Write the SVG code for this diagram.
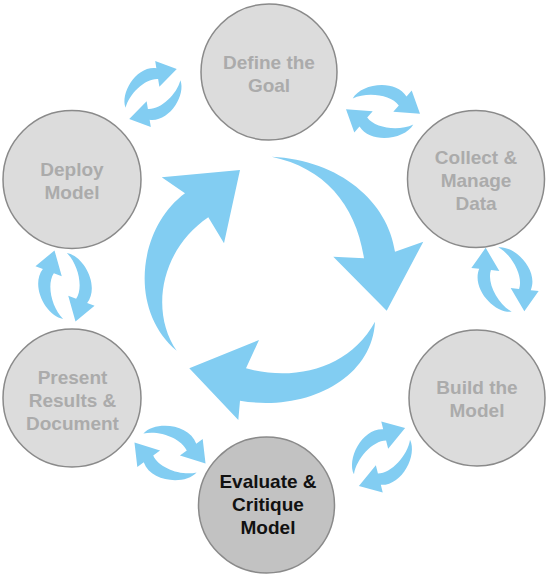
<svg xmlns="http://www.w3.org/2000/svg" xmlns:xlink="http://www.w3.org/1999/xlink" width="550" height="576" viewBox="0 0 550 576">
<style>
.node{fill:#dcdcdc;stroke:#8a8a8a;stroke-width:1.5}
.node.active{fill:#c2c2c2}
.lbl{font-family:"Liberation Sans",Arial,Helvetica,sans-serif;font-weight:bold;font-size:19px;fill:#ababab;text-anchor:middle}
.lbl.active{fill:#111111}
.arr{fill:#82cdf2}
</style>
<defs>
<path id="sa" d="M -30.3,-13 C -22,-28 12,-33 23.5,-15 L 28.7,-21 L 37,2.3 L 10.3,0.3 L 15.8,-6.1 C 8,-17 -16,-20 -30.3,-13 Z"/>
<g id="cyc">
<use xlink:href="#sa"/>
<use xlink:href="#sa" transform="rotate(180)"/>
</g>
</defs>
<rect width="550" height="576" fill="#ffffff"/>
<g id="connectors" class="arr">
<path d="M271.7,156.7 C340,160 388,202 395,251.7 L423.3,241.7 L386.7,310.7 L333.3,256.7 L364,258.3 C356,205 325,168 271.7,156.7 Z"/>
<path d="M375,321.7 C372,380 305,412 240,400.7 L238.3,420 L189.3,368.3 L259,340 L246,368.3 C295,382 350,368 375,321.7 Z"/>
<path d="M176.7,350.7 C128,310 138,228 185,193.3 L161.7,177.3 L240,170 L224,243.3 L208.3,217.3 C160,250 150,312 176.7,350.7 Z"/>
<use xlink:href="#cyc" transform="translate(153,94) rotate(-50) scale(0.93)"/>
<use xlink:href="#cyc" transform="translate(383,111.5)"/>
<use xlink:href="#cyc" transform="translate(505,279.5) rotate(55)"/>
<use xlink:href="#cyc" transform="translate(382,457) rotate(-55)"/>
<use xlink:href="#cyc" transform="translate(170,453) rotate(13)"/>
<use xlink:href="#cyc" transform="translate(65,286) rotate(70)"/>
</g>
<g id="define">
<circle class="node" cx="269" cy="72" r="68"/>
<text class="lbl" x="269" y="68.5">Define the</text>
<text class="lbl" x="269" y="91.5">Goal</text>
</g>
<g id="collect">
<circle class="node" cx="476" cy="179" r="68.5"/>
<text class="lbl" x="476" y="163.5">Collect &amp;</text>
<text class="lbl" x="476" y="186.5">Manage</text>
<text class="lbl" x="476" y="209.5">Data</text>
</g>
<g id="build">
<circle class="node" cx="477" cy="398" r="68"/>
<text class="lbl" x="477" y="393.5">Build the</text>
<text class="lbl" x="477" y="416.5">Model</text>
</g>
<g id="evaluate">
<circle class="node active" cx="266.5" cy="505" r="68"/>
<text class="lbl active" x="268" y="487.5">Evaluate &amp;</text>
<text class="lbl active" x="268" y="510.5">Critique</text>
<text class="lbl active" x="268" y="533.5">Model</text>
</g>
<g id="present">
<circle class="node" cx="72" cy="398" r="69"/>
<text class="lbl" x="72.5" y="383.5">Present</text>
<text class="lbl" x="72.5" y="406.5">Results &amp;</text>
<text class="lbl" x="72.5" y="429.5">Document</text>
</g>
<g id="deploy">
<circle class="node" cx="72" cy="179.5" r="69"/>
<text class="lbl" x="72" y="176">Deploy</text>
<text class="lbl" x="72" y="199">Model</text>
</g>
</svg>
